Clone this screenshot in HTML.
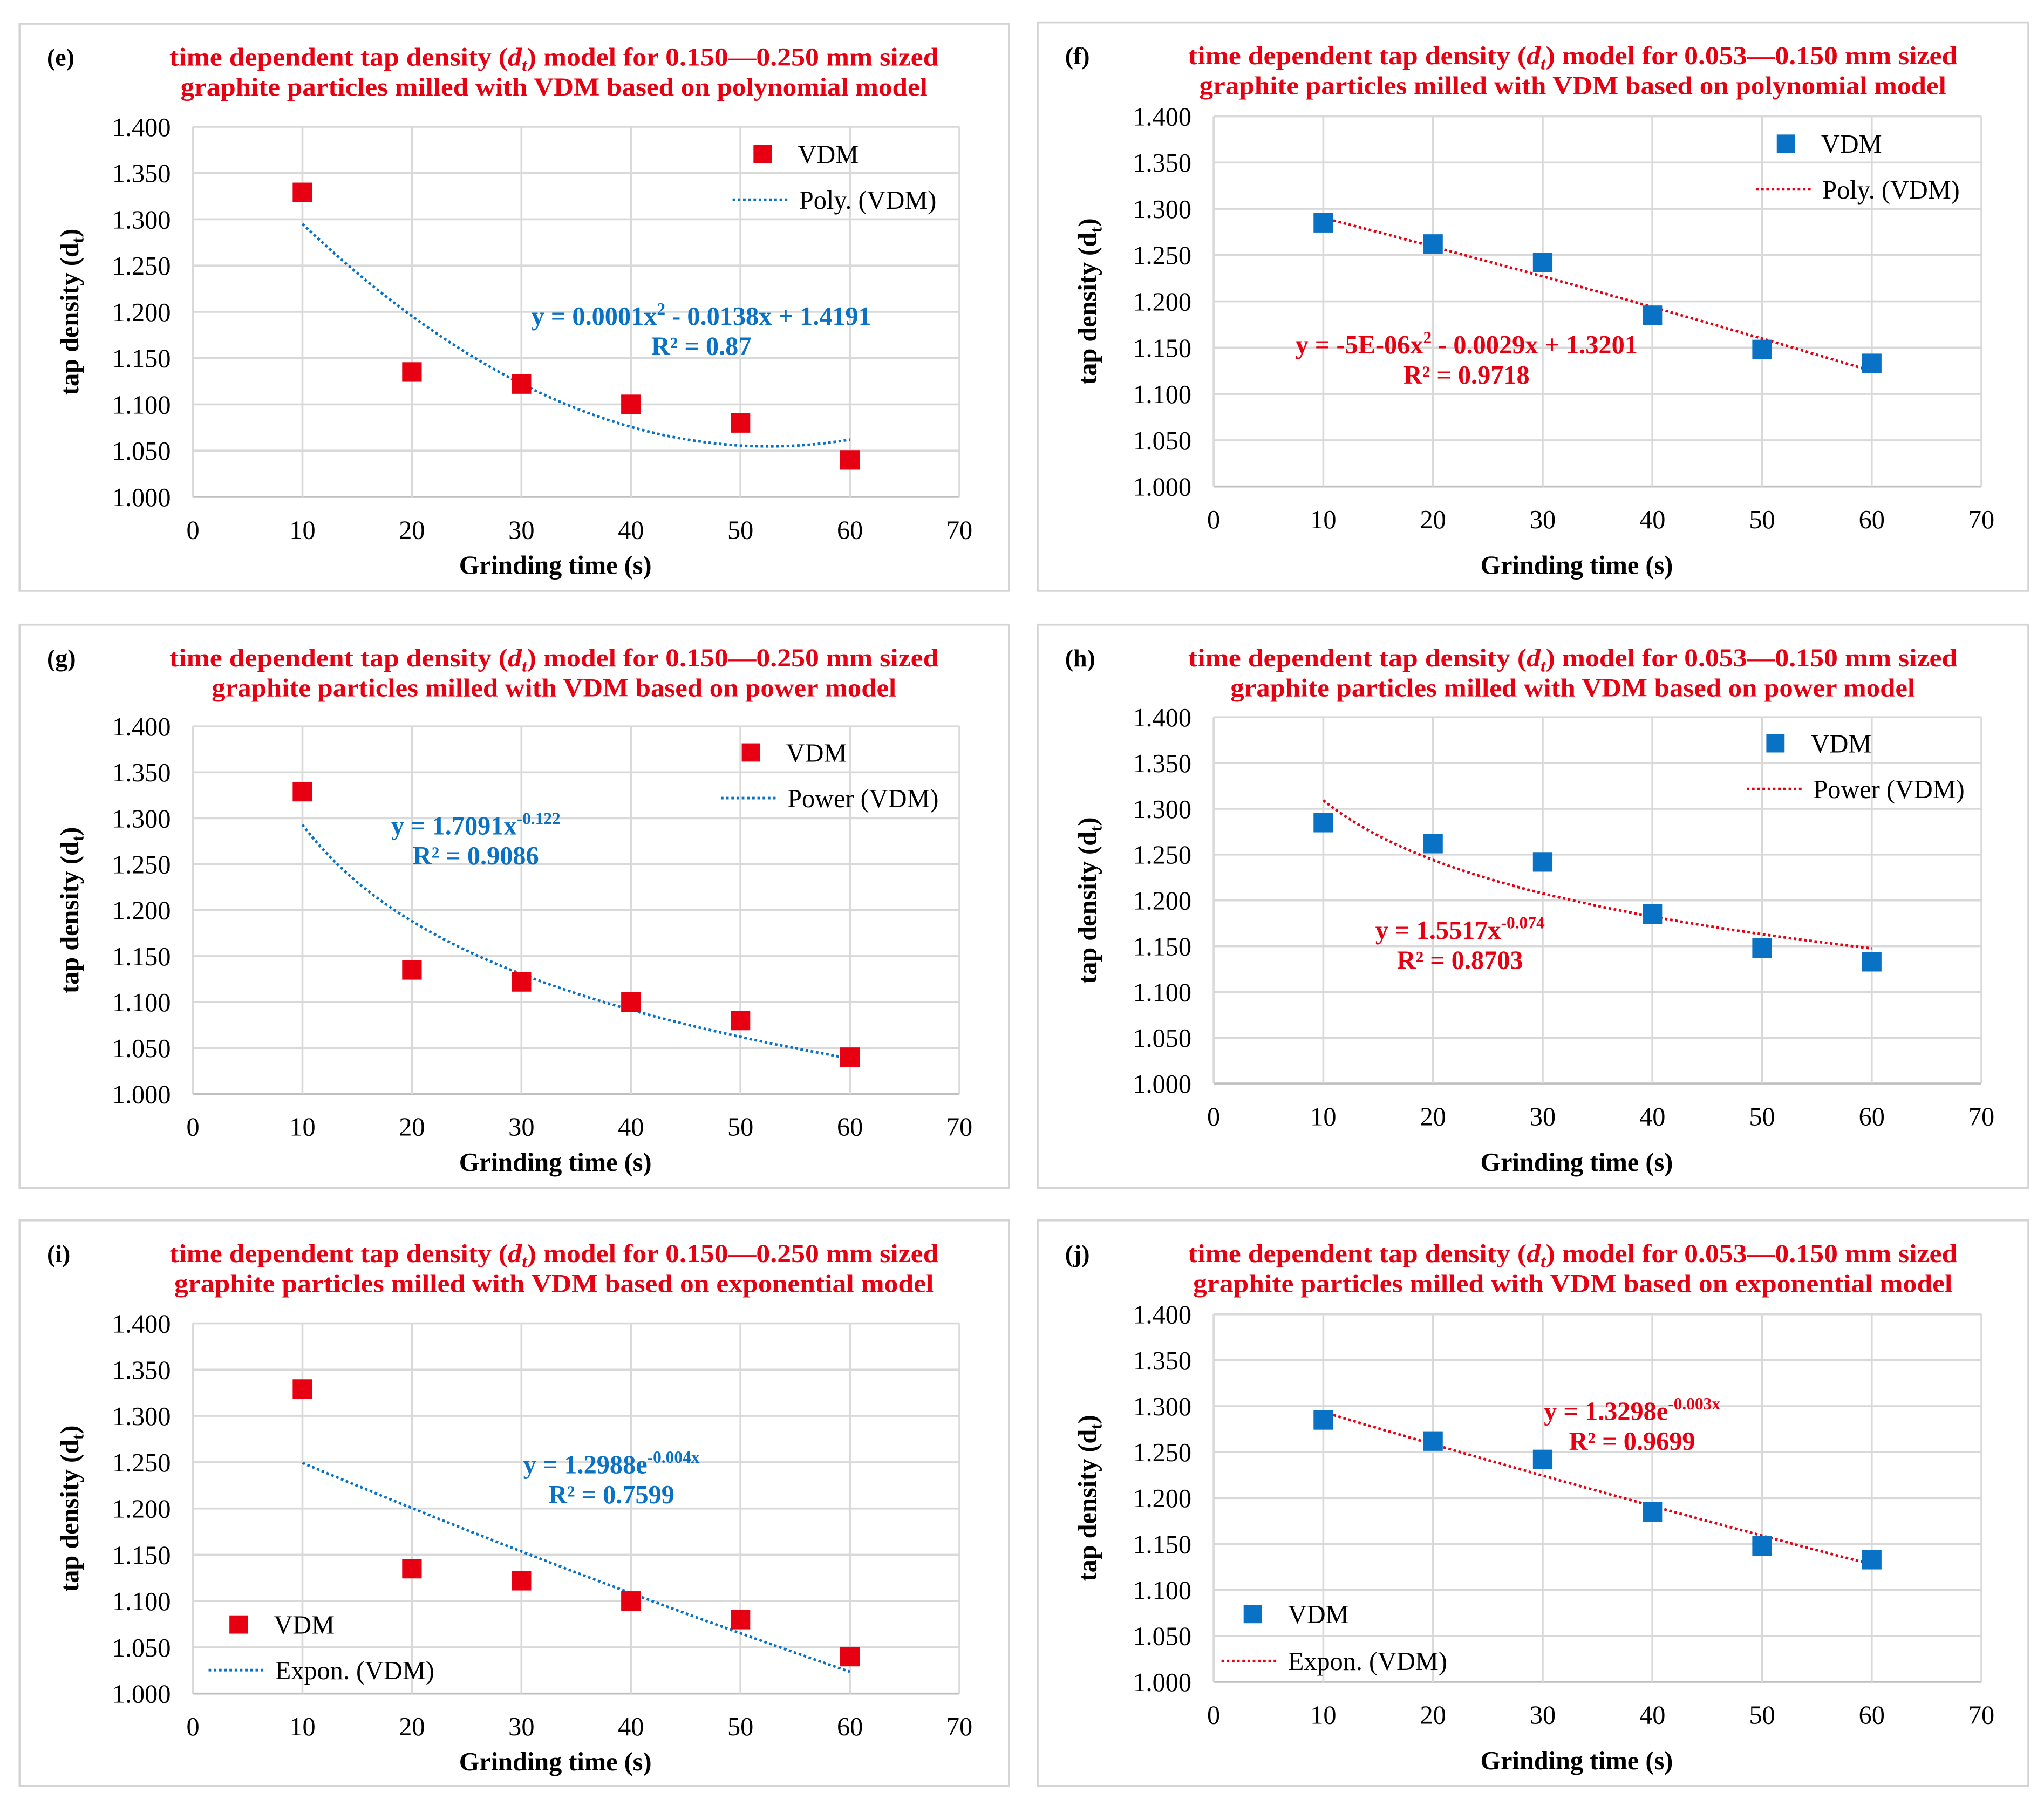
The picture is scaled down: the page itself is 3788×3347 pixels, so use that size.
<!DOCTYPE html>
<html><head><meta charset="utf-8"><style>
html,body{margin:0;padding:0;background:#fff}
svg{display:block}
svg text{font-family:"Liberation Serif","Times New Roman",serif}
</style></head><body>
<svg id="chart" width="3788" height="3347" viewBox="0 0 1568 1385" font-family="Liberation Serif, serif" xmlns="http://www.w3.org/2000/svg"></svg>
<script>
const xTicks = [0,10,20,30,40,50,60,70];
const yTicks = [1.000,1.050,1.100,1.150,1.200,1.250,1.300,1.350,1.400];
const grindTimes = [10,20,30,40,50,60];
const densityCoarse = [1.329,1.135,1.122,1.100,1.080,1.040];
const densityFine = [1.285,1.262,1.242,1.185,1.148,1.133];

const RED='#e60012', BLUE='#0a72c4';
const panels = [
 {id:'e',box:[15,18,759,435],plot:[148,97,736,381],data:'c',model:'poly',title2:'graphite particles milled with VDM based on polynomial model',size:'0.150—0.250',leg:[585,118,562,153],legLabel:'Poly. (VDM)',eq:['y = 0.0001x','2',' - 0.0138x + 1.4191'],r2:'R² = 0.87',eqPos:[538,243]},
 {id:'f',box:[796,17,760,436],plot:[931,89,1520,373],data:'f',model:'poly',title2:'graphite particles milled with VDM based on polynomial model',size:'0.053—0.150',leg:[1370,110,1347,145],legLabel:'Poly. (VDM)',eq:['y = -5E-06x','2',' - 0.0029x + 1.3201'],r2:'R² = 0.9718',eqPos:[1125,265]},
 {id:'g',box:[15,479,759,432],plot:[148,557,736,839],data:'c',model:'power',title2:'graphite particles milled with VDM based on power model',size:'0.150—0.250',leg:[576,577,553,612],legLabel:'Power (VDM)',eq:['y = 1.7091x','-0.122',''],r2:'R² = 0.9086',eqPos:[365,634]},
 {id:'h',box:[796,479,760,432],plot:[931,550,1520,831],data:'f',model:'power',title2:'graphite particles milled with VDM based on power model',size:'0.053—0.150',leg:[1362,570,1340,605],legLabel:'Power (VDM)',eq:['y = 1.5517x','-0.074',''],r2:'R² = 0.8703',eqPos:[1120,714]},
 {id:'i',box:[15,936,759,434],plot:[148,1015,736,1299],data:'c',model:'expon',title2:'graphite particles milled with VDM based on exponential model',size:'0.150—0.250',leg:[183,1246,160,1281],legLabel:'Expon. (VDM)',eq:['y = 1.2988e','-0.004x',''],r2:'R² = 0.7599',eqPos:[469,1124]},
 {id:'j',box:[796,936,760,434],plot:[931,1008,1520,1290],data:'f',model:'expon',title2:'graphite particles milled with VDM based on exponential model',size:'0.053—0.150',leg:[961,1238,937,1274],legLabel:'Expon. (VDM)',eq:['y = 1.3298e','-0.003x',''],r2:'R² = 0.9699',eqPos:[1252,1083]}
];
const svg=document.getElementById('chart');
const NS='http://www.w3.org/2000/svg';
function mk(tag,attrs,parent,txt){const e=document.createElementNS(NS,tag);for(const k in attrs)e.setAttribute(k,attrs[k]);if(tag==='text')e.setAttribute('font-family','Liberation Serif, serif');if(txt!==undefined)e.textContent=txt;parent.appendChild(e);return e;}
function solve3(A,b){const M=A.map((r,i)=>r.concat([b[i]]));for(let i=0;i<3;i++){let p=i;for(let j=i+1;j<3;j++)if(Math.abs(M[j][i])>Math.abs(M[p][i]))p=j;[M[i],M[p]]=[M[p],M[i]];for(let j=i+1;j<3;j++){const f=M[j][i]/M[i][i];for(let k=i;k<4;k++)M[j][k]-=f*M[i][k];}}const x=[0,0,0];for(let i=2;i>=0;i--){let s=M[i][3];for(let k=i+1;k<3;k++)s-=M[i][k]*x[k];x[i]=s/M[i][i];}return x;}
function linfit(xs,ys){const n=xs.length;let sx=0,sy=0,sxx=0,sxy=0;for(let i=0;i<n;i++){sx+=xs[i];sy+=ys[i];sxx+=xs[i]*xs[i];sxy+=xs[i]*ys[i];}const b=(n*sxy-sx*sy)/(n*sxx-sx*sx);return [(sy-b*sx)/n,b];}
function fitFn(model,xs,ys){
 if(model==='poly'){let S=[0,0,0,0,0],T=[0,0,0];xs.forEach((x,i)=>{for(let k=0;k<5;k++)S[k]+=Math.pow(x,k);for(let k=0;k<3;k++)T[k]+=ys[i]*Math.pow(x,k);});const c=solve3([[S[0],S[1],S[2]],[S[1],S[2],S[3]],[S[2],S[3],S[4]]],T);return x=>c[0]+c[1]*x+c[2]*x*x;}
 if(model==='power'){const [a,b]=linfit(xs.map(Math.log),ys.map(Math.log));return x=>Math.exp(a)*Math.pow(x,b);}
 const [a,b]=linfit(xs,ys.map(Math.log));return x=>Math.exp(a+b*x);
}
panels.forEach(p=>{
 const left=(p.id==='e'||p.id==='g'||p.id==='i');
 const g=mk('g',{},svg);
 
 
 const [bx,by,bw,bh]=p.box;
 const frame=mk('rect',{x:bx,y:by,width:bw,height:bh,fill:'#fff',stroke:'#d4d4d4','stroke-width':1.5},g);
 
 
 const [x0,y0,x1,y1]=p.plot;
 const X=v=>x0+(v-0)/(70-0)*(x1-x0);
 const Y=v=>y1-(v-1.0)/(1.4-1.0)*(y1-y0);
 const lab=mk('text',{x:bx+21,y:by+32,'font-size':19,'font-weight':'bold',fill:'#000'},g,'('+p.id+')');
 
 
 const cx=(x0+x1)/2+(left?-17:-19);
 const t1=mk('text',{x:cx,y:by+32,'font-size':19.5,'font-weight':'bold',fill:RED,'text-anchor':'middle',textLength:590,lengthAdjust:'spacingAndGlyphs'},g);
 
 
 mk('tspan',{},t1,'time dependent tap density (');
 mk('tspan',{'font-style':'italic'},t1,'d');
 mk('tspan',{'font-style':'italic','font-size':13,dy:4},t1,'t');
 mk('tspan',{dy:-4},t1,') model for '+p.size+' mm sized');
 const w2=p.title2.length*9.55;
 const t2=mk('text',{x:cx,y:by+55,'font-size':19.5,'font-weight':'bold',fill:RED,'text-anchor':'middle',textLength:w2,lengthAdjust:'spacingAndGlyphs'},g,p.title2);
 
 
 yTicks.forEach(v=>{
  const l=mk('line',{x1:x0,x2:x1,y1:Y(v),y2:Y(v),stroke:v===1?'#bfbfbf':'#d9d9d9','stroke-width':1.5},g);
  
  
  const t=mk('text',{x:x0-17,y:Y(v)+7,'font-size':20,'text-anchor':'end',fill:'#000'},g,v.toFixed(3));
  
  
 });
 xTicks.forEach(v=>{
  const l=mk('line',{x1:X(v),x2:X(v),y1:y0,y2:y1,stroke:'#d9d9d9','stroke-width':1.5},g);
  
  
  const t=mk('text',{x:X(v),y:y1+32,'font-size':20,'text-anchor':'middle',fill:'#000'},g,String(v));
  
  
 });
 const xt=mk('text',{x:(x0+x1)/2-16,y:y1+(left?59:67),'font-size':20,'font-weight':'bold','text-anchor':'middle',fill:'#000'},g,'Grinding time (s)');
 
 
 const ym=(y0+y1)/2, yx=bx+45;
 const yt=mk('text',{x:yx,y:ym,'font-size':20,'font-weight':'bold','text-anchor':'middle',fill:'#000',transform:`rotate(-90 ${yx} ${ym})`},g);
 
 
 mk('tspan',{},yt,'tap density (d');
 mk('tspan',{'font-size':13,dy:4},yt,'t');
 mk('tspan',{dy:-4},yt,')');
 const ys=p.data==='c'?densityCoarse:densityFine;
 const mc=p.data==='c'?RED:BLUE, lc=p.data==='c'?BLUE:RED;
 const f=fitFn(p.model,grindTimes,ys);
 let d='';for(let x=10;x<=60.001;x+=0.5){d+=(d?'L':'M')+X(x).toFixed(2)+','+Y(f(x)).toFixed(2);}
 const tl=mk('path',{d:d,fill:'none',stroke:lc,'stroke-width':2,'stroke-dasharray':'2 2'},g);
 
 
 grindTimes.forEach((x,i)=>{
  const r=mk('rect',{x:X(x)-7.5,y:Y(ys[i])-7.5,width:15,height:15,fill:mc},g);
  
  
 });
 const [mx,my,lx,ly]=p.leg;
 const lm=mk('rect',{x:mx-7,y:my-7,width:14,height:14,fill:mc},g);
 
 
 const lt=mk('text',{x:mx+27,y:my+7,'font-size':20,fill:'#000'},g,'VDM');
 
 
 const ll=mk('line',{x1:lx,x2:lx+44,y1:ly,y2:ly,stroke:lc,'stroke-width':2,'stroke-dasharray':'2 2'},g);
 
 
 const lt2=mk('text',{x:lx+51,y:ly+7,'font-size':20,fill:'#000'},g,p.legLabel);
 
 
 const [ex,ey]=p.eqPos;
 const et=mk('text',{x:ex,y:ey+6,'font-size':20,'font-weight':'bold',fill:lc,'text-anchor':'middle'},g);
 
 
 mk('tspan',{},et,p.eq[0]);
 mk('tspan',{'font-size':13,dy:-8},et,p.eq[1]);
 mk('tspan',{dy:8},et,p.eq[2]);
 const rt=mk('text',{x:ex,y:ey+29,'font-size':20,'font-weight':'bold',fill:lc,'text-anchor':'middle'},g,p.r2);
 
 
});
</script>
</body></html>
